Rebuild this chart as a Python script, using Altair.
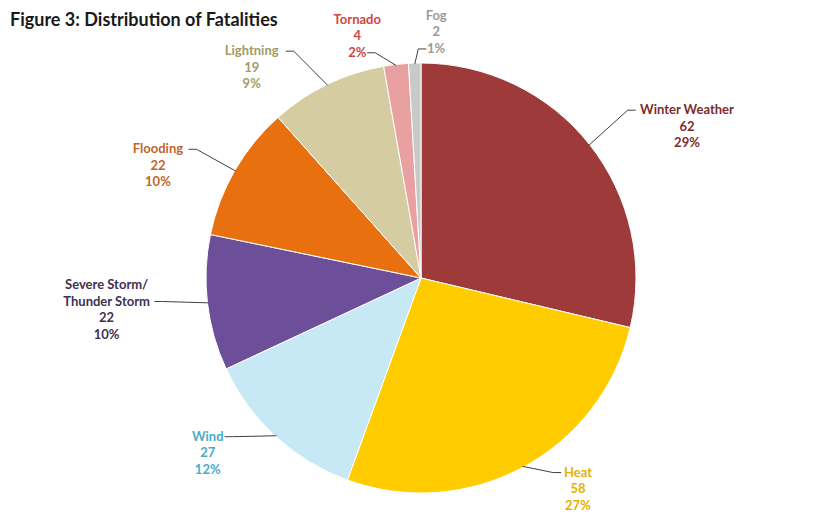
import math
import numpy as np
import pandas as pd
import altair as alt

# ---- data ----
categories = ["Winter Weather", "Heat", "Wind", "Severe Storm/\nThunder Storm",
              "Flooding", "Lightning", "Tornado", "Fog"]
values = [62, 58, 27, 22, 22, 19, 4, 2]
percents = ["29%", "27%", "12%", "10%", "10%", "9%", "2%", "1%"]

# ---- styles ----
slice_colors = ["#9E3B3A", "#FFCC00", "#C6E9F5", "#6D4E98",
                "#E8700F", "#D6CCA2", "#E8A0A0", "#C9C9C9"]
label_colors = ["#7B2C2C", "#E6B000", "#4BACC6", "#3F3151",
                "#C0662A", "#A39C68", "#D04545", "#9A9A9A"]

# ---- layout ----
CX, CY, R = 413, 240, 215
LH = 16.5
CHAR_W = 6.9
label_radius = [306, 263, 276, 316, 286, 270, 250, 246]
label_nudge_deg = [8.7, -8.3, 8.1, 0.9, -6.9, -13, -8.1, 5.2]
attach_line = [0, 0, 0, 1, 0, 0, 2, 2]
ELBOW = 8

total = sum(values)
cum = np.cumsum(values)
mid = [(c - v / 2) / total * 2 * math.pi for c, v in zip(cum, values)]

rows = []
lead = []
for i, cat in enumerate(categories):
    lines = cat.split("\n") + [str(values[i]), percents[i]]
    a = mid[i] + math.radians(label_nudge_deg[i])
    lx = CX + label_radius[i] * math.sin(a)
    ly = CY - label_radius[i] * math.cos(a)
    first_y = ly - (len(lines) - 1) * LH / 2
    rows.append({"cat": cat.replace("\n", " "), "value": values[i], "idx": i,
                 "label": "\n".join(lines), "lc": label_colors[i],
                 "tx": lx, "ty": first_y})
    k = attach_line[i]
    hw = len(lines[k]) * CHAR_W / 2
    side = 1 if math.sin(a) > 0 else -1
    ax = lx - side * (hw + 3)
    ay = first_y + k * LH
    ex = ax - side * ELBOW
    sx = CX + (R - 1) * math.sin(mid[i])
    sy = CY - (R - 1) * math.cos(mid[i])
    lead.append({"x1": sx, "y1": sy, "x2": ex, "y2": ay})
    lead.append({"x1": ex, "y1": ay, "x2": ax, "y2": ay})

df = pd.DataFrame(rows)
ldf = pd.DataFrame(lead)

cats_flat = [c.replace("\n", " ") for c in categories]

pie = alt.Chart(df).mark_arc(radius=R, stroke="white", strokeWidth=1).encode(
    theta=alt.Theta("value:Q", stack=True),
    order=alt.Order("idx:Q"),
    color=alt.Color("cat:N", scale=alt.Scale(domain=cats_flat, range=slice_colors), legend=None),
    x=alt.value(CX), y=alt.value(CY),
)

leaders = alt.Chart(ldf).mark_rule(color="#404040", strokeWidth=1).encode(
    x=alt.X("x1:Q", scale=None), y=alt.Y("y1:Q", scale=None),
    x2="x2:Q", y2="y2:Q",
)

labels = alt.Chart(df).mark_text(font="Lato", fontWeight="bold", fontSize=13,
                                 lineBreak="\n", lineHeight=LH, align="center",
                                 baseline="middle").encode(
    x=alt.X("tx:Q", scale=None),
    y=alt.Y("ty:Q", scale=None),
    text="label:N",
    color=alt.Color("lc:N", scale=None),
)

chart = alt.layer(pie, leaders, labels).properties(
    width=819, height=478,
    autosize=alt.AutoSizeParams(type="none"),
    padding={"top": 30, "left": 0, "right": 0, "bottom": 0},
    title=alt.TitleParams("Figure 3: Distribution of Fatalities", anchor="start",
                          font="Lato", fontSize=18, fontWeight="bold", color="#1a1a1a",
                          offset=-4, dx=2, dy=16),
).configure_view(stroke=None)

chart.save("out.html", embed_options={"renderer": "svg", "actions": False})
